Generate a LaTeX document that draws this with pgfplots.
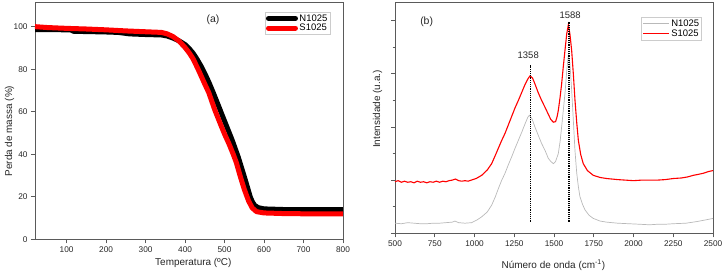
\documentclass[border=0pt]{standalone}
\usepackage{fontspec}
\setmainfont{Liberation Sans}
\usepackage{pgfplots}
\pgfplotsset{compat=1.18}
\definecolor{axgray}{RGB}{90,90,90}
\definecolor{spgray}{RGB}{185,185,185}
\pgfplotsset{
  myaxis/.style={
    scale only axis,
    axis line style={draw=axgray, line width=0.8pt},
    every tick/.style={draw=axgray, line width=0.7pt},
    tick align=outside,
    xtick pos=bottom, ytick pos=left,
    major tick length=4bp, minor tick length=2.5bp,
    /pgf/number format/assume math mode=true,
    /pgf/number format/set thousands separator={},
    tick label style={font=\fontsize{8.3}{10}\selectfont, text=black!85},
    label style={font=\fontsize{10}{12}\selectfont, text=black!85},
    legend cell align=left,
    clip=false,
  }
}
\begin{document}
\begin{tikzpicture}
\useasboundingbox (0,0) rectangle (727bp,274bp);
% ---------- (a) TGA ----------
\begin{axis}[myaxis,
  at={(35bp,34.7bp)}, anchor=south west,
  width=308bp, height=237.3bp,
  xmin=20, xmax=800, ymin=0, ymax=111.6,
  xtick={100,200,...,800}, ytick={0,20,...,100},
  xlabel={Temperatura (ºC)}, ylabel={Perda de massa (\%)},
  xlabel style={at={(axis description cs:0.514,-0.101)}, anchor=center},
  ylabel style={at={(axis description cs:-0.083,0.456)}, anchor=center},
  legend style={at={(axis description cs:0.958,0.959)}, anchor=north east,
    draw=black!20, font=\fontsize{9.5}{11}\selectfont, inner sep=1bp,
    row sep=-1.5bp, nodes={inner sep=1.5bp}},
  legend image code/.code={\draw[#1, line cap=round] (0bp,0bp) -- (27bp,0bp);},
]
\addplot[black, line width=5bp, line join=round] coordinates {
(20,98.6) (60,98.6) (110,98.5) (118,97.8) (150,97.7) (200,97.5) (230,97.3)
(260,96.6) (300,96.3) (340,96.1) (355,95.6) (370,94.6) (385,93.3) (400,91.6)
(410,89.8) (420,87.6) (430,84.8) (440,81.6) (450,78) (460,74) (470,69.6)
(480,65) (490,60.3) (500,55.6) (510,51) (520,46.3) (535,38.5) (550,29.5)
(558,24.5) (565,20) (570,17.8) (576,16) (585,14.9) (600,14.3) (650,14)
(700,14) (750,14) (800,14)};
\addlegendentry{N1025}
\addplot[red, line width=5bp, line join=round] coordinates {
(20,100) (50,99.6) (100,99.2) (150,98.9) (200,98.5) (250,98) (300,97.6)
(340,97.3) (355,96.6) (370,95.3) (385,93.2) (400,90.2) (410,87.8)
(420,85) (433,80) (450,73) (460,69) (476,60.5) (490,54) (500,49.5)
(511,45) (522,40) (530,36) (540,29.5) (550,23.5) (561,18) (570,14.8)
(581,13) (600,12.4) (650,12.1) (700,12) (750,11.9) (800,11.9)};
\addlegendentry{S1025}
\node[font=\fontsize{10.5}{12}\selectfont, text=black!85] at (axis cs:471,103.2) {(a)};
\end{axis}
% ---------- (b) Raman ----------
\begin{axis}[myaxis,
  at={(395bp,40.7bp)}, anchor=south west,
  width=318bp, height=231.3bp,
  xmin=500, xmax=2500, ymin=0, ymax=4.35,
  xtick={500,750,...,2500}, ytick={0,1,2,3,4}, yticklabels={},
  minor y tick num=1,
  xlabel={Número de onda (cm\textsuperscript{-1})}, ylabel={Intensidade (u.a.)},
  xlabel style={at={(axis description cs:0.498,-0.137)}, anchor=center},
  ylabel style={at={(axis description cs:-0.055,0.537)}, anchor=center},
  legend style={at={(axis description cs:0.965,0.936)}, anchor=north east,
    draw=black!20, font=\fontsize{9.5}{11}\selectfont, inner sep=1bp,
    row sep=-1bp, nodes={inner sep=1.5bp}},
  legend image code/.code={\draw[#1] (0bp,0bp) -- (26bp,0bp);},
]
\addlegendimage{spgray, line width=0.8bp}
\addlegendentry{N1025}
\addlegendimage{red, line width=1.1bp}
\addlegendentry{S1025}
\addplot[spgray, line width=0.7bp, forget plot] coordinates {
(500,0.19) (540,0.18) (580,0.2) (620,0.19) (660,0.18) (700,0.18) (740,0.19)
(780,0.19) (820,0.2) (860,0.21) (877,0.23) (900,0.2) (940,0.19) (982,0.20)
(1015,0.25) (1045,0.31) (1080,0.40) (1108,0.53) (1130,0.68) (1150,0.84)
(1170,0.99) (1192,1.13) (1213,1.29) (1234,1.44) (1255,1.60) (1276,1.75)
(1297,1.90) (1318,2.06) (1335,2.18) (1345,2.22) (1362,2.15) (1380,2.00)
(1400,1.85) (1422,1.69) (1445,1.55) (1464,1.41) (1480,1.35) (1496,1.31)
(1510,1.35) (1527,1.50) (1538,1.72) (1548,2.00) (1558,2.30) (1569,2.63)
(1580,3.05) (1590,3.35) (1600,3.20) (1611,2.70) (1622,2.10) (1632,1.55)
(1643,1.13) (1653,0.88) (1663,0.69) (1680,0.54) (1695,0.44) (1720,0.34)
(1747,0.28) (1790,0.23) (1831,0.21) (1900,0.19) (1970,0.18) (2041,0.17)
(2100,0.16) (2150,0.17) (2200,0.17) (2250,0.18) (2330,0.19) (2397,0.22)
(2450,0.25) (2500,0.28)};
\addplot[red, line width=1.1bp, forget plot] coordinates {
(500,0.97) (520,0.99) (540,0.96) (560,0.98) (580,0.96) (600,0.97) (620,0.95)
(640,0.98) (660,0.96) (680,0.97) (700,0.95) (720,0.97) (740,0.96) (760,0.98)
(780,0.96) (800,0.98) (820,0.97) (840,0.99) (860,1.00) (880,1.02) (900,0.99)
(920,0.98) (940,0.99) (960,0.98) (980,1.00) (1010,1.03) (1045,1.09)
(1080,1.19) (1108,1.31) (1130,1.46) (1150,1.60) (1170,1.74) (1192,1.88)
(1213,2.04) (1234,2.20) (1255,2.36) (1276,2.50) (1297,2.65) (1318,2.80)
(1335,2.90) (1349,2.96) (1365,2.92) (1380,2.81) (1400,2.65) (1422,2.50)
(1445,2.36) (1464,2.24) (1480,2.14) (1496,2.09) (1510,2.10) (1520,2.20)
(1527,2.31) (1538,2.55) (1548,2.81) (1558,3.12) (1569,3.44) (1580,3.75)
(1590,3.92) (1600,3.75) (1611,3.44) (1622,2.98) (1632,2.50) (1643,2.08)
(1653,1.75) (1668,1.48) (1684,1.31) (1710,1.18) (1747,1.09) (1790,1.05)
(1831,1.03) (1900,1.01) (1950,1.00) (2000,0.99) (2050,1.00) (2100,1.00)
(2150,1.00) (2200,1.01) (2250,1.03) (2300,1.04) (2340,1.06) (2376,1.09)
(2410,1.11) (2440,1.13) (2470,1.16) (2500,1.18)};
\addplot[black, line width=1.6bp, dash pattern=on 1.2bp off 1bp, forget plot] coordinates {(1353,0.22) (1353,3.16)};
\addplot[black, line width=1.6bp, dash pattern=on 1.2bp off 1bp, forget plot] coordinates {(1595,0.22) (1595,3.97)};
\node[font=\fontsize{9.5}{11}\selectfont, text=black!85] at (axis cs:1338,3.34) {1358};
\node[font=\fontsize{9.5}{11}\selectfont, text=black!85] at (axis cs:1601,4.11) {1588};
\node[font=\fontsize{10.5}{12}\selectfont, text=black!85] at (axis cs:699,3.97) {(b)};
\end{axis}
\end{tikzpicture}
\end{document}
